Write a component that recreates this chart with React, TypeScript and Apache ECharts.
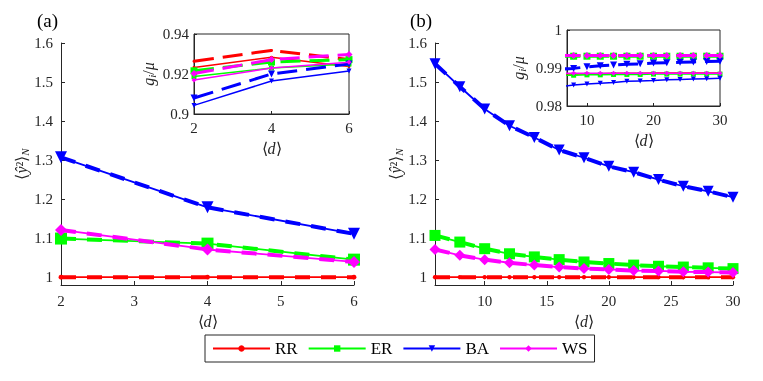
import React, { useEffect, useRef } from 'react';
import * as echarts from 'echarts';

// ---------- data ----------
const NETS = ['RR', 'ER', 'BA', 'WS'];
const COLORS: Record<string, string> = { RR: '#ff0000', ER: '#00ff00', BA: '#0000ff', WS: '#ff00ff' };
const SYMBOLS: Record<string, string> = { RR: 'circle', ER: 'rect', BA: 'triangle', WS: 'diamond' };

// panel (a)
const dA = [2, 4, 6];
const mainA_RR = [1.0, 1.0, 1.0];
const mainA_ER = [1.099, 1.086, 1.045];
const mainA_BA = [1.307, 1.179, 1.111];
const mainA_WS = [1.121, 1.071, 1.039];

const insetA_RR_dash = [0.9264, 0.9318, 0.9272];
const insetA_RR_solid = [0.9233, 0.9284, 0.9238];
const insetA_ER_dash = [0.9216, 0.926, 0.9272];
const insetA_ER_solid = [0.9187, 0.923, 0.925];
const insetA_BA_dash = [0.908, 0.920, 0.925];
const insetA_BA_solid = [0.9043, 0.9165, 0.9215];
const insetA_WS_dash = [0.9202, 0.9272, 0.9298];
const insetA_WS_solid = [0.917, 0.923, 0.9259];

// panel (b)
const dB = [6, 8, 10, 12, 14, 16, 18, 20, 22, 24, 26, 28, 30];
const mainB_RR = [1, 1, 1, 1, 1, 1, 1, 1, 1, 1, 1, 1, 1];
const mainB_ER = [1.107, 1.09, 1.073, 1.06, 1.052, 1.045, 1.039, 1.035, 1.031, 1.028, 1.026, 1.024, 1.022];
const mainB_BA = [1.547, 1.488, 1.431, 1.388, 1.358, 1.326, 1.306, 1.284, 1.269, 1.25, 1.233, 1.22, 1.205];
const mainB_WS = [1.071, 1.056, 1.045, 1.037, 1.031, 1.026, 1.022, 1.02, 1.017, 1.016, 1.014, 1.013, 1.012];

const insetB_RR_dash = [0.9933, 0.9933, 0.9933, 0.9933, 0.9933, 0.9933, 0.9933, 0.9933, 0.9933, 0.9933, 0.9933, 0.9933, 0.9933];
const insetB_RR_solid = [0.9884, 0.9884, 0.9885, 0.9885, 0.9886, 0.9886, 0.9886, 0.9887, 0.9887, 0.9887, 0.9887, 0.9887, 0.9887];
const insetB_ER_dash = [0.9931, 0.9931, 0.9931, 0.9931, 0.9931, 0.9931, 0.9931, 0.9931, 0.9931, 0.9931, 0.9931, 0.9931, 0.9931];
const insetB_ER_solid = [0.9881, 0.9881, 0.9882, 0.9882, 0.9883, 0.9883, 0.9883, 0.9884, 0.9884, 0.9884, 0.9884, 0.9884, 0.9884];
const insetB_BA_dash = [0.9897, 0.9899, 0.9903, 0.9906, 0.9908, 0.991, 0.9911, 0.9913, 0.9914, 0.9915, 0.9916, 0.9917, 0.9918];
const insetB_BA_solid = [0.9851, 0.9855, 0.9858, 0.986, 0.9862, 0.9865, 0.9866, 0.9867, 0.9869, 0.987, 0.9871, 0.9872, 0.9873];
const insetB_WS_dash = [0.9933, 0.9933, 0.9933, 0.9933, 0.9933, 0.9933, 0.9933, 0.9933, 0.9933, 0.9933, 0.9933, 0.9933, 0.9933];
const insetB_WS_solid = [0.9886, 0.9886, 0.9886, 0.9886, 0.9886, 0.9886, 0.9886, 0.9886, 0.9886, 0.9886, 0.9886, 0.9886, 0.9886];

const mainTicks = [1, 1.1, 1.2, 1.3, 1.4, 1.5, 1.6];
const mainATicksX = [2, 3, 4, 5, 6];
const mainBTicksX = [10, 15, 20, 25, 30];
const insetATicksX = [2, 4, 6];
const insetATicksY = [0.9, 0.92, 0.94];
const insetBTicksX = [10, 20, 30];
const insetBTicksY = [0.98, 0.99, 1];

// ---------- styling helpers ----------
const AX = '#262626';
const FONT = 'Liberation Serif';

function series(
  name: string, net: string, idx: number, xs: number[], ys: number[],
  dashed: boolean, lw: number, size: number, z: number, dash: number[]
) {
  return {
    type: 'line',
    name,
    xAxisIndex: idx,
    yAxisIndex: idx,
    data: xs.map((x, i) => [x, ys[i]]),
    symbol: SYMBOLS[net],
    symbolRotate: net === 'BA' ? 180 : 0,
    symbolSize: net === 'RR' ? Math.max(3, size * 0.4) : size,
    showSymbol: true,
    color: COLORS[net],
    itemStyle: { color: COLORS[net] },
    lineStyle: { color: COLORS[net], width: lw, type: dashed ? dash : 'solid', cap: 'butt' },
    clip: true,
    z,
    emphasis: { disabled: true },
  };
}

const labelStyle = { fontFamily: FONT, fontSize: 15, color: AX };

function xAxis(idx: number, min: number, max: number, ticks: number[], nameGap: number, inset: boolean) {
  return {
    type: 'value',
    gridIndex: idx,
    min,
    max,
    name: '⟨{i|d}⟩',
    nameLocation: 'middle',
    nameGap,
    nameTextStyle: { fontFamily: FONT, fontSize: 16, color: AX, rich: { i: { fontStyle: 'italic', fontFamily: FONT, fontSize: 16, color: AX } } },
    axisLine: { show: true, onZero: false, lineStyle: { color: AX, width: 1 } },
    axisTick: { show: true, inside: true, length: inset ? 3 : 4, customValues: ticks, lineStyle: { color: AX } },
    axisLabel: { show: true, customValues: ticks, margin: inset ? 6 : 8, ...labelStyle },
    splitLine: { show: false },
  };
}

function yAxis(idx: number, min: number, max: number, ticks: number[], name: string, nameGap: number, inset: boolean) {
  return {
    type: 'value',
    gridIndex: idx,
    min,
    max,
    name,
    nameLocation: 'middle',
    nameGap,
    nameRotate: 90,
    nameTextStyle: {
      fontFamily: FONT, fontSize: 16, color: AX,
      rich: {
        i: { fontStyle: 'italic', fontFamily: FONT, fontSize: 16, color: AX },
        sub: { fontStyle: 'italic', fontFamily: FONT, fontSize: 11, color: AX, verticalAlign: 'bottom', padding: [6, 0, 0, 0] },
      },
    },
    axisLine: { show: true, onZero: false, lineStyle: { color: AX, width: 1 } },
    axisTick: { show: true, inside: true, length: inset ? 3 : 4, customValues: ticks, lineStyle: { color: AX } },
    axisLabel: { show: true, customValues: ticks, margin: inset ? 5 : 8, ...labelStyle },
    splitLine: { show: false },
  };
}

export default function App() {
  const ref = useRef<HTMLDivElement>(null);
  useEffect(() => {
    if (!ref.current) return;
    const chart = echarts.init(ref.current, undefined, { renderer: 'svg' });

    const allSeries: any[] = [];
    const mainA: Record<string, number[]> = { RR: mainA_RR, ER: mainA_ER, BA: mainA_BA, WS: mainA_WS };
    const mainB: Record<string, number[]> = { RR: mainB_RR, ER: mainB_ER, BA: mainB_BA, WS: mainB_WS };
    const insA: Record<string, [number[], number[]]> = {
      RR: [insetA_RR_solid, insetA_RR_dash], ER: [insetA_ER_solid, insetA_ER_dash],
      BA: [insetA_BA_solid, insetA_BA_dash], WS: [insetA_WS_solid, insetA_WS_dash],
    };
    const insB: Record<string, [number[], number[]]> = {
      RR: [insetB_RR_solid, insetB_RR_dash], ER: [insetB_ER_solid, insetB_ER_dash],
      BA: [insetB_BA_solid, insetB_BA_dash], WS: [insetB_WS_solid, insetB_WS_dash],
    };
    const mainDash = [15, 11];
    const insetDash = [20, 9];
    NETS.forEach((n, k) => {
      allSeries.push(series(n, n, 0, dA, mainA[n], false, 1.8, 7, 3 + k, mainDash));
      allSeries.push(series(n + ' theory a', n, 0, dA, mainA[n], true, 4, 12, 3 + k, mainDash));
      allSeries.push(series(n + ' sim b', n, 1, dB, mainB[n], false, 1.8, 7, 3 + k, mainDash));
      allSeries.push(series(n + ' theory b', n, 1, dB, mainB[n], true, 4, 11, 3 + k, mainDash));
      allSeries.push(series(n + ' ia', n, 2, dA, insA[n][0], false, 1.5, 5, 13 + k, insetDash));
      allSeries.push(series(n + ' ia d', n, 2, dA, insA[n][1], true, 3, 7, 13 + k, insetDash));
      allSeries.push(series(n + ' ib', n, 3, dB, insB[n][0], false, 1.5, 5, 13 + k, insetDash));
      allSeries.push(series(n + ' ib d', n, 3, dB, insB[n][1], true, 3, 7, 13 + k, insetDash));
    });

    const yName = '⟨{i|ŷ}²⟩{sub|N}';
    const gName = '{i|g}{sub|i}/{i|μ}';

    chart.setOption({
      animation: false,
      grid: [
        { left: 61, top: 43, width: 293, height: 242, show: false },
        { left: 435, top: 43, width: 298, height: 242, show: false },
        { left: 194, top: 34, width: 155, height: 80, show: true, backgroundColor: '#ffffff', borderColor: AX, borderWidth: 1, z: 10 },
        { left: 567, top: 30, width: 153, height: 76, show: true, backgroundColor: '#ffffff', borderColor: AX, borderWidth: 1, z: 10 },
      ],
      xAxis: [
        xAxis(0, 2, 6, mainATicksX, 28, false),
        xAxis(1, 6, 30, mainBTicksX, 28, false),
        { ...xAxis(2, 2, 6, insetATicksX, 26, true), z: 11 },
        { ...xAxis(3, 7, 30, insetBTicksX, 26, true), z: 11 },
      ],
      yAxis: [
        yAxis(0, 0.98, 1.6, mainTicks, yName, 30, false),
        yAxis(1, 0.98, 1.6, mainTicks, yName, 30, false),
        { ...yAxis(2, 0.9, 0.94, insetATicksY, gName, 37, true), z: 11 },
        { ...yAxis(3, 0.98, 1, insetBTicksY, gName, 40, true), z: 11 },
      ],
      legend: {
        data: NETS,
        left: 205,
        top: 335,
        orient: 'horizontal',
        itemWidth: 57,
        itemHeight: 8,
        itemGap: 10,
        padding: [5, 7],
        borderColor: AX,
        borderWidth: 1,
        backgroundColor: '#ffffff',
        selectedMode: false,
        textStyle: { fontFamily: FONT, fontSize: 17, color: '#000' },
      },
      graphic: [
        { type: 'text', left: 37, top: 11, style: { text: '(a)', fontFamily: FONT, fontSize: 19, fill: '#000' } },
        { type: 'text', left: 410, top: 11, style: { text: '(b)', fontFamily: FONT, fontSize: 19, fill: '#000' } },
      ],
      series: allSeries,
    });
    return () => chart.dispose();
  }, []);
  return <div ref={ref} style={{ position: 'fixed', left: 0, top: 0, width: 763, height: 381 }} />;
}
